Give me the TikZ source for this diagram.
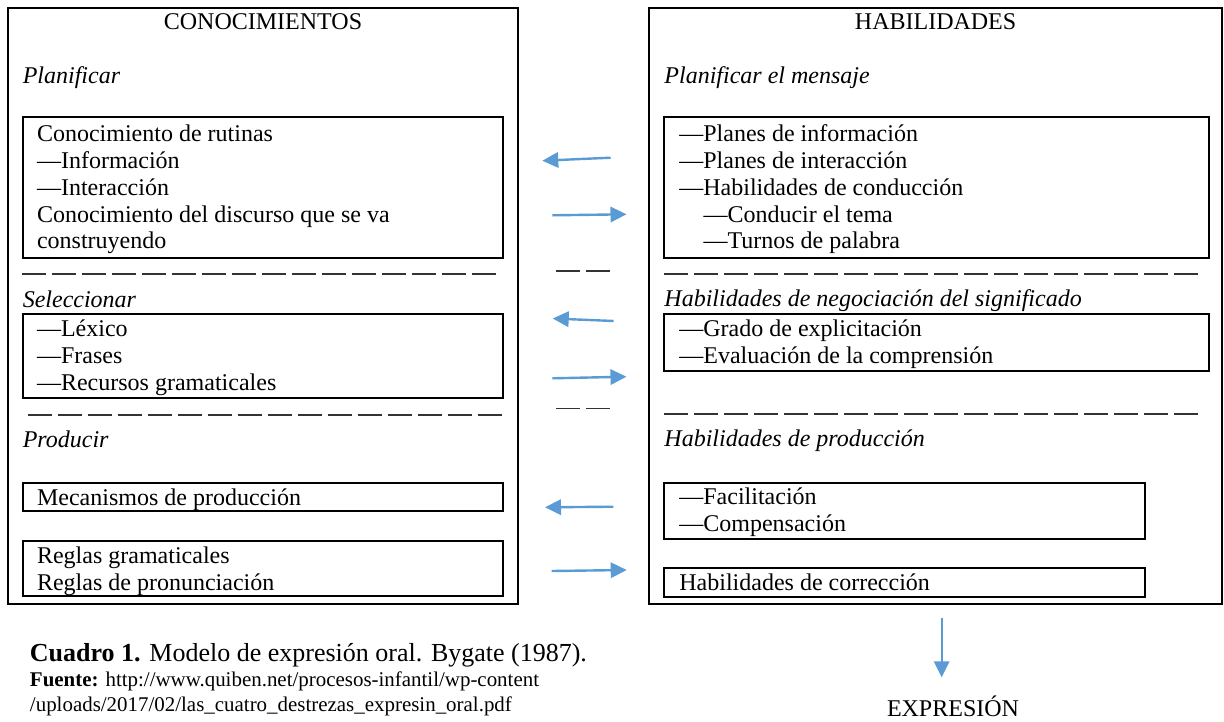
\documentclass[tikz,border=0pt]{standalone}
\usepackage{fontspec}
\setmainfont{Liberation Serif}
\usetikzlibrary{arrows.meta}
\definecolor{arrowblue}{HTML}{5B9BD5}
\begin{document}
\begin{tikzpicture}[x=0.75pt,y=-0.75pt,
  body/.style={anchor=base west, inner sep=0pt, font=\fontsize{18}{20}\selectfont},
  headit/.style={anchor=base west, inner sep=0pt, font=\fontsize{18}{20}\selectfont\itshape},
  titletxt/.style={anchor=base, inner sep=0pt, font=\fontsize{18}{20}\selectfont},
  frame/.style={draw=black, line width=1.5pt},
  sepline/.style={draw=black!80, line width=0.9pt, dash pattern=on 18pt off 4.5pt},
  flow/.style={draw=arrowblue, line width=1.8pt, -{Triangle[length=12pt,width=11.5pt]}},
]
\useasboundingbox (0,0) rectangle (1224,721);

% ---------- outer frames ----------
\draw[frame] (8,8) rectangle (518,604);
\draw[frame] (649.3,7.5) rectangle (1221.8,604.3);

% ---------- left column ----------
\node[titletxt] (conoc) at (263,29.3) {CONOCIMIENTOS};
\node[headit] (planif) at (22.5,83.3) {Planificar};
\draw[frame] (23,117.3) rectangle (503.4,257.7);
\node[body] (l11) at (36.8,141.7) {Conocimiento de rutinas};
\node[body] (l12) at (36.8,168.5) {—Información};
\node[body] (l13) at (36.8,195.3) {—Interacción};
\node[body] (l14) at (36.8,222.1) {Conocimiento del discurso que se va};
\node[body] (l15) at (36.8,248.9) {construyendo};
\draw[sepline] (21.7,274) -- (495.7,274);

\node[headit] (selec) at (22.5,307) {Seleccionar};
\draw[frame] (23,314) rectangle (503.4,397.7);
\node[body] (l21) at (36.8,336.7) {—Léxico};
\node[body] (l22) at (36.8,363.5) {—Frases};
\node[body] (l23) at (36.8,390.3) {—Recursos gramaticales};
\draw[sepline] (27.7,415) -- (501.7,415);

\node[headit] (produ) at (22.5,447.3) {Producir};
\draw[frame] (23,482.7) rectangle (503.4,510.7);
\node[body] (l31) at (36.8,505) {Mecanismos de producción};
\draw[frame] (23,540.7) rectangle (503.4,596);
\node[body] (l41) at (36.8,563.3) {Reglas gramaticales};
\node[body] (l42) at (36.8,590) {Reglas de pronunciación};

% ---------- right column ----------
\node[titletxt] (habil) at (935.6,29.3) {HABILIDADES};
\node[headit] (planm) at (664.2,83.3) {Planificar el mensaje};
\draw[frame] (664.2,117.3) rectangle (1208.7,257.7);
\node[body] (r11) at (679.1,141.7) {—Planes de información};
\node[body] (r12) at (679.1,168.5) {—Planes de interacción};
\node[body] (r13) at (679.1,195.3) {—Habilidades de conducción};
\node[body] (r14) at (703.3,222.1) {—Conducir el tema};
\node[body] (r15) at (703.3,248.9) {—Turnos de palabra};
\draw[sepline] (664,274) -- (1198,274);

\node[headit] (negoc) at (664.2,306.7) {Habilidades de negociación del significado};
\draw[frame] (664.2,314) rectangle (1208.7,370.7);
\node[body] (r21) at (679.1,336.7) {—Grado de explicitación};
\node[body] (r22) at (679.1,363.5) {—Evaluación de la comprensión};
\draw[sepline] (664,414) -- (1198,414);

\node[headit] (hprod) at (664.2,446.7) {Habilidades de producción};
\draw[frame] (664.2,482.7) rectangle (1145.4,539);
\node[body] (r31) at (679.1,504.3) {—Facilitación};
\node[body] (r32) at (679.1,531.1) {—Compensación};
\draw[frame] (664.2,567.7) rectangle (1145.4,596.7);
\node[body] (r41) at (679.1,590) {Habilidades de corrección};

% ---------- middle arrows ----------
\coordinate (a1s) at (610.7,157.7); \coordinate (a1e) at (542.3,160.7);
\coordinate (a2s) at (552.3,215.3); \coordinate (a2e) at (626.5,214.3);
\coordinate (a3s) at (613.7,321);   \coordinate (a3e) at (552.7,318.5);
\coordinate (a4s) at (552.3,378.3); \coordinate (a4e) at (626.5,376.7);
\coordinate (a5s) at (613.3,506.7); \coordinate (a5e) at (545,507.3);
\coordinate (a6s) at (551.7,571);   \coordinate (a6e) at (626.7,570);
\draw[flow] (a1s) -- (a1e);
\draw[flow] (a2s) -- (a2e);
\draw[flow] (a3s) -- (a3e);
\draw[flow] (a4s) -- (a4e);
\draw[flow] (a5s) -- (a5e);
\draw[flow] (a6s) -- (a6e);
\coordinate (d1s) at (556,271); \coordinate (d1e) at (610,271);
\coordinate (d2s) at (556,408.3); \coordinate (d2e) at (610,408.3);
\draw[sepline] (d1s) -- (d1e);
\draw[sepline] (d2s) -- (d2e);

% ---------- output ----------
\coordinate (ds) at (941.7,618.3); \coordinate (de) at (941.7,677.3);
\draw[flow] (ds) -- (de);
\node[titletxt] (expr) at (953,716) {EXPRESIÓN};

% ---------- caption ----------
\node[anchor=base west, inner sep=0pt, font=\fontsize{19.5}{23}\selectfont] (cap) at (29.7,661.7) {\textbf{Cuadro 1.} Modelo de expresión oral. Bygate (1987).};
\node[anchor=base west, inner sep=0pt, font=\fontsize{15.7}{18}\selectfont] (src1) at (29.7,686.7) {\textbf{Fuente:} http://www.quiben.net/procesos-infantil/wp-content};
\node[anchor=base west, inner sep=0pt, font=\fontsize{15.7}{18}\selectfont] (src2) at (29.7,711) {/uploads/2017/02/las\_cuatro\_destrezas\_expresin\_oral.pdf};
\end{tikzpicture}
\end{document}
